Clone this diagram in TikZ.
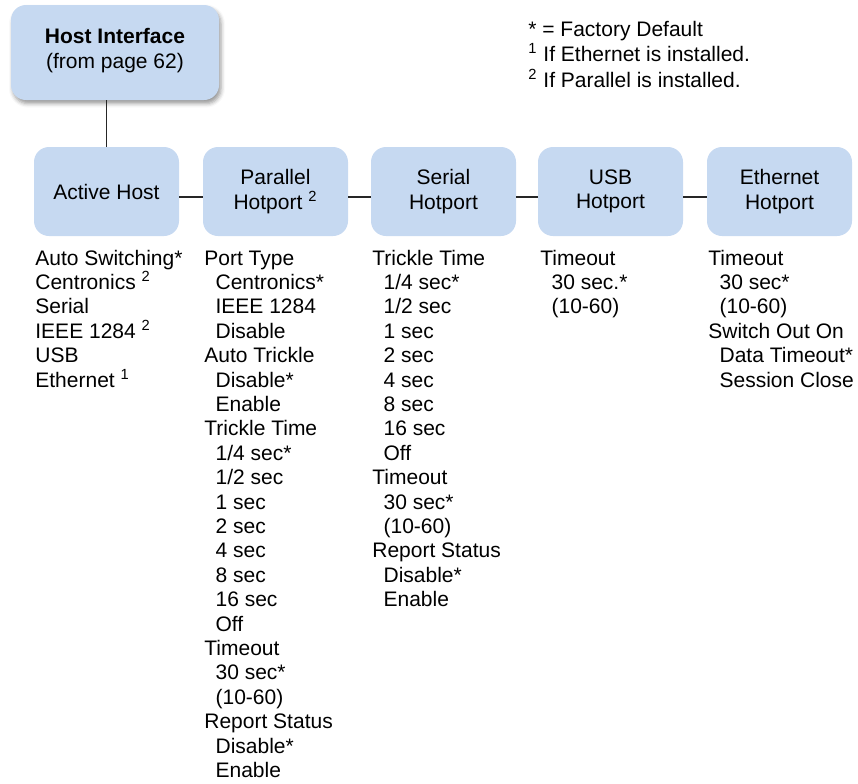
\documentclass[tikz,border=0pt]{standalone}
\usepackage{fontspec}
\setmainfont{Liberation Sans}
\usetikzlibrary{shadows.blur}
\definecolor{menublue}{HTML}{C6D9F1}
\newcommand\opt{\hspace*{5.6pt}}
\newcommand\fnote[1]{~\textsuperscript{#1}}
\begin{document}
\begin{tikzpicture}[
  x=0.5pt, y=-0.5pt,
  font=\fontsize{10.5}{12.2}\selectfont,
  box/.style     = {fill=menublue, rounded corners=7.5pt, align=center,
                    minimum width=72.5pt, minimum height=44.5pt, inner sep=0pt},
  hostbox/.style = {box, minimum width=104pt, minimum height=47.5pt,
                    blur shadow={shadow xshift=1pt, shadow yshift=-1.8pt,
                                 shadow blur radius=2pt, shadow opacity=40}},
  menu/.style    = {anchor=base west, align=left, inner sep=0pt},
  ln/.style      = {draw=black!85, line width=0.6pt},
]
\useasboundingbox (0,0) rectangle (858,783);

% ---- parent menu -----------------------------------------------------------
\node[hostbox] (hi) at (115,52.5)
  {\textbf{Host Interface}\\(from page 62)\rule[-4.2pt]{0pt}{0pt}};

% ---- legend (anchored on its last line) ------------------------------------
\node[menu, font=\fontsize{10.5}{12.7}\selectfont] (legend) at (528,87)
  {* = Factory Default\\
   \textsuperscript{1} If Ethernet is installed.\\
   \textsuperscript{2} If Parallel is installed.};

% ---- submenus --------------------------------------------------------------
\node[box] (ah) at (106.5,191.5) {Active Host};
\node[box] (pp) at (275.5,191.5) {Parallel\\Hotport\fnote{2}};
\node[box] (sp) at (443.5,191.5) {Serial\\Hotport};
\node[box] (up) at (610.5,191.5) {USB\\Hotport};
\node[box] (ep) at (779.5,191.5) {Ethernet\\Hotport};

\draw[ln] (hi.south -| ah.north) -- (ah.north);
\draw[ln] ([yshift=-2.75pt]ah.east) -- ([yshift=-2.75pt]pp.west);
\draw[ln] ([yshift=-2.75pt]pp.east) -- ([yshift=-2.75pt]sp.west);
\draw[ln] ([yshift=-2.75pt]sp.east) -- ([yshift=-2.75pt]up.west);
\draw[ln] ([yshift=-2.75pt]up.east) -- ([yshift=-2.75pt]ep.west);

% ---- options (first line at 265, 24.4 per line, base = last line) ----------
\node[menu] (ahopts) at (35,{265+5*24.4})
  {Auto Switching*\\ Centronics\fnote{2}\\ Serial\\ IEEE 1284\fnote{2}\\
   USB\\ Ethernet\fnote{1}};

\node[menu] (ppopts) at (204,{265+21*24.4})
  {Port Type\\ \opt Centronics*\\ \opt IEEE 1284\\ \opt Disable\\
   Auto Trickle\\ \opt Disable*\\ \opt Enable\\
   Trickle Time\\ \opt 1/4 sec*\\ \opt 1/2 sec\\ \opt 1 sec\\ \opt 2 sec\\
   \opt 4 sec\\ \opt 8 sec\\ \opt 16 sec\\ \opt Off\\
   Timeout\\ \opt 30 sec*\\ \opt (10-60)\\
   Report Status\\ \opt Disable*\\ \opt Enable};

\node[menu] (spopts) at (372,{265+14*24.4})
  {Trickle Time\\ \opt 1/4 sec*\\ \opt 1/2 sec\\ \opt 1 sec\\ \opt 2 sec\\
   \opt 4 sec\\ \opt 8 sec\\ \opt 16 sec\\ \opt Off\\
   Timeout\\ \opt 30 sec*\\ \opt (10-60)\\
   Report Status\\ \opt Disable*\\ \opt Enable};

\node[menu] (upopts) at (540,{265+2*24.4})
  {Timeout\\ \opt 30 sec.*\\ \opt (10-60)};

\node[menu] (epopts) at (708,{265+5*24.4})
  {Timeout\\ \opt 30 sec*\\ \opt (10-60)\\
   Switch Out On\\ \opt Data Timeout*\\ \opt Session Close};

\end{tikzpicture}
\end{document}
